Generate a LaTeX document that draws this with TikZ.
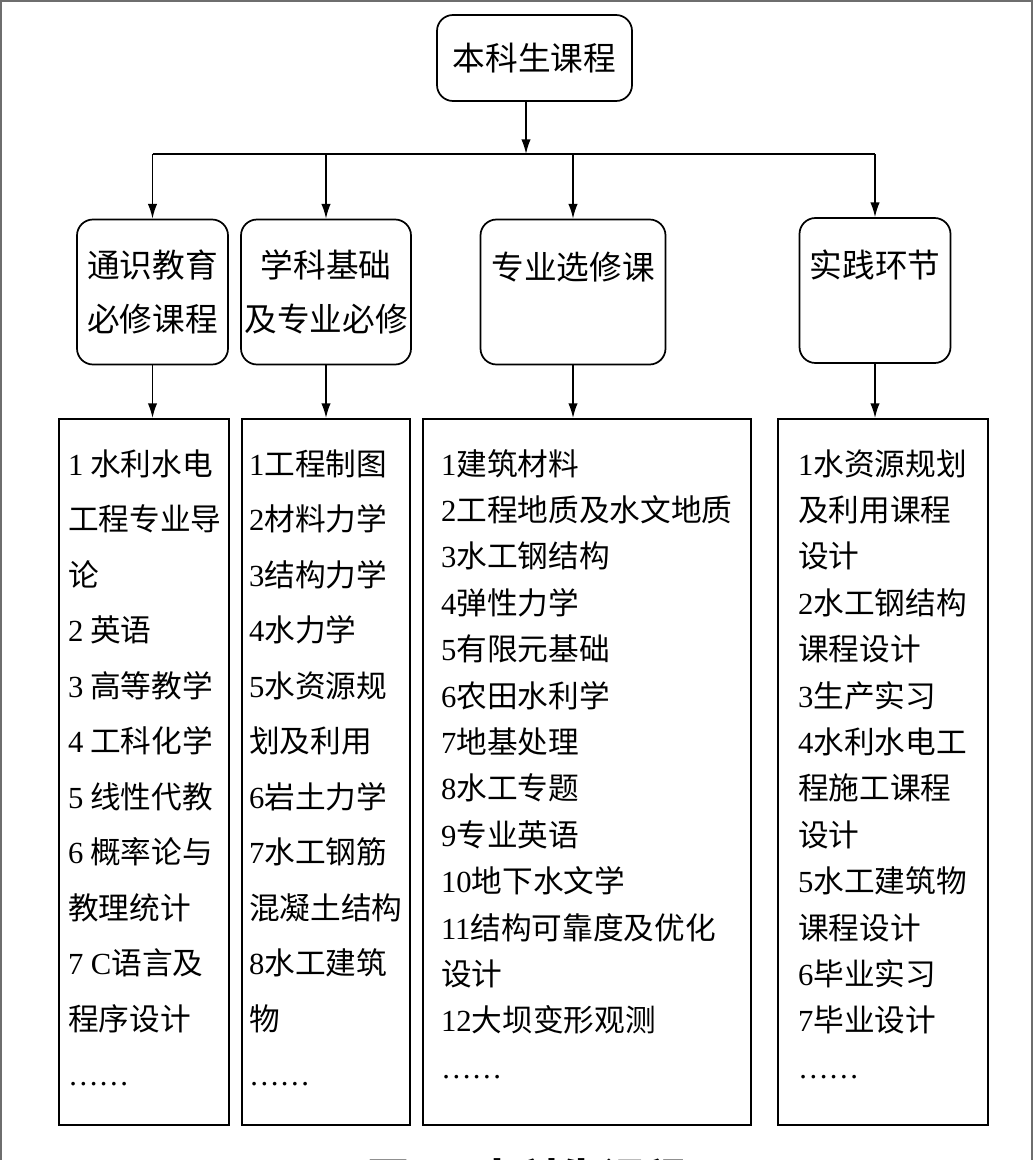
\documentclass[tikz,border=0pt]{standalone}
\usepackage{fontspec}
\setmainfont{Liberation Serif}
\newfontfamily\cjk{Noto Sans CJK SC}
\usetikzlibrary{arrows.meta}
\definecolor{framegray}{HTML}{6E6E6E}
\newdimen\pxu \pxu=0.75pt
\newcommand{\nr}[1]{{\rmfamily #1}}
% name, left x, width, left pad, line skip, lines
\newcommand{\courselist}[6]{%
  \node[listbox,anchor=north west] (#1) at (#2,418)
    {\hspace*{#4\pxu}\parbox[t][706\pxu][t]{\dimexpr#3\pxu-#4\pxu\relax}{%
      \fontsize{23pt}{#5\pxu}\selectfont\cjk\rule{0pt}{56\pxu}#6}};
}

\begin{document}
\begin{tikzpicture}[x=0.75pt,y=-0.75pt,
    catbox/.style={draw,line width=1.3pt,rounded corners=12pt,align=center,inner sep=0pt,
      font=\fontsize{24.5pt}{40pt}\selectfont\cjk,minimum height=145*0.75pt},
    catw/.style={minimum width=#1*0.75pt},
    listbox/.style={draw,line width=1.5pt,inner sep=0pt},
    arr/.style={-{Latex[length=11pt,width=7pt]},line width=1.1pt},
    link/.style={line width=1.1pt}]
  \useasboundingbox (0,0) rectangle (1034,1160);
  \clip (0,0) rectangle (1034,1160);
  \draw[framegray,line width=1.5pt] (1,1) rectangle (1032,1220);
  % top and second level
  \node[catbox,catw=195,minimum height=86*0.75pt] (root) at (534.5,58) {本科生课程};
  \node[catbox,catw=151] (gen) at (152.5,292) {通识教育\\必修课程};
  \node[catbox,catw=170] (basic) at (326,292) {学科基础\\及专业必修};
  \node[catbox,catw=185] (elect) at (573,292) {专业选修课\\\mbox{}};
  \node[catbox,catw=151] (prac) at (875,290.5) {实践环节\\\mbox{}};
  \coordinate (hub) at (526,154);
  \draw[arr] (root.south -| hub) -- (hub);
  \draw[link] (gen.north |- hub) -- (prac.north |- hub);
  \foreach \c in {gen,basic,elect,prac}
    \draw[arr] (\c.north |- hub) -- (\c.north);
  % course lists
  \courselist{genlist}{58}{170}{9}{55.5}{\nr{1} 水利水电\\工程专业导\\论\\\nr{2} 英语\\\nr{3} 高等教学\\\nr{4} 工科化学\\\nr{5} 线性代教\\\nr{6} 概率论与\\教理统计\\\nr{7 C}语言及\\程序设计\\\nr{……}}
  \courselist{basiclist}{241}{168}{7}{55.5}{\nr{1}工程制图\\\nr{2}材料力学\\\nr{3}结构力学\\\nr{4}水力学\\\nr{5}水资源规\\划及利用\\\nr{6}岩土力学\\\nr{7}水工钢筋\\混凝土结构\\\nr{8}水工建筑\\物\\\nr{……}}
  \courselist{electlist}{422}{328}{18}{46.4}{\nr{1}建筑材料\\\nr{2}工程地质及水文地质\\\nr{3}水工钢结构\\\nr{4}弹性力学\\\nr{5}有限元基础\\\nr{6}农田水利学\\\nr{7}地基处理\\\nr{8}水工专题\\\nr{9}专业英语\\\nr{10}地下水文学\\\nr{11}结构可靠度及优化\\设计\\\nr{12}大坝变形观测\\\nr{……}}
  \courselist{praclist}{777}{210}{20}{46.4}{\nr{1}水资源规划\\及利用课程\\设计\\\nr{2}水工钢结构\\课程设计\\\nr{3}生产实习\\\nr{4}水利水电工\\程施工课程\\设计\\\nr{5}水工建筑物\\课程设计\\\nr{6}毕业实习\\\nr{7}毕业设计\\\nr{……}}
  \draw[arr] (gen.south) -- (gen.south |- genlist.north);
  \draw[arr] (basic.south) -- (basic.south |- basiclist.north);
  \draw[arr] (elect.south) -- (elect.south |- electlist.north);
  \draw[arr] (prac.south) -- (prac.south |- praclist.north);
  % caption, cut off at the lower edge as in the scan
  \node[font=\fontsize{31.5pt}{31.5pt}\selectfont\cjk\bfseries] (cap) at (527,1179) {图1\quad 本科生课程};
\end{tikzpicture}
\end{document}
